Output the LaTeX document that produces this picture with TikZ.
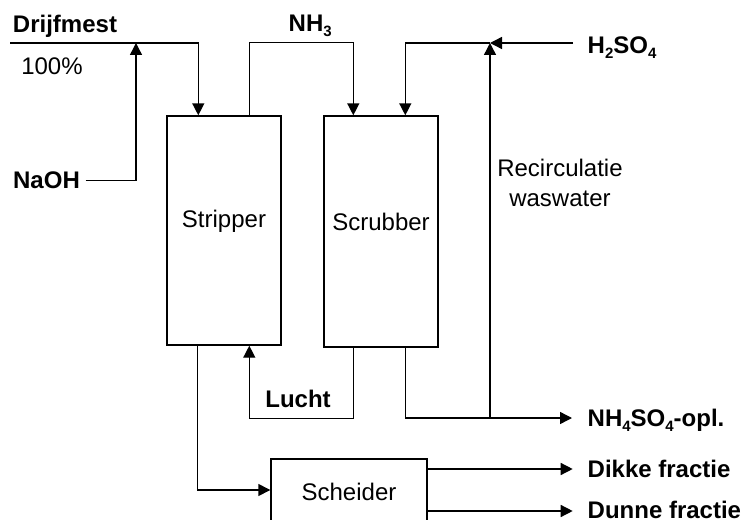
\documentclass[tikz,border=0pt]{standalone}
\usepackage{fontspec}
\setmainfont{Liberation Sans}
\usetikzlibrary{arrows.meta,calc}
\newcommand{\chsub}[1]{\raisebox{-5pt}{\fontsize{15}{15}\selectfont #1}}
\begin{document}
\begin{tikzpicture}[x=1pt,y=-1pt,
 line width=1.4pt,
 arr/.style={-{Triangle[length=12pt,width=12pt]}},
 unit/.style={draw, minimum width=114pt, inner sep=0pt},
 lbl/.style={inner sep=0pt, font=\fontsize{24}{28}\selectfont},
 blbl/.style={inner sep=0pt, font=\fontsize{24}{28}\selectfont\bfseries}]
\useasboundingbox (0,0) rectangle (741,519);

% units
\node[unit, minimum height=229pt, label={[lbl,yshift=9pt]center:Stripper}] (strip) at (224,230.5) {};
\node[unit, minimum height=231pt, label={[lbl,yshift=10pt]center:Scrubber}] (scrub) at (381,231.5) {};
\node[draw, minimum width=156pt, minimum height=62pt, inner sep=0pt, label={[lbl,yshift=-2pt]center:Scheider}] (sch) at (349,490) {};

% labels
\node[blbl, anchor=base] (drijf) at (65,33) {Drijfmest};
\node[lbl, anchor=base] (pct) at (52,74.5) {100\%};
\node[blbl, anchor=base] (naoh) at (46.5,188.5) {NaOH};
\node[blbl, anchor=base west] (nh3) at (288,31.5) {NH\chsub{3}};
\node[blbl, anchor=base west] (h2so4) at (587,53.5) {H\chsub{2}SO\chsub{4}};
\node[lbl, anchor=base] (rec1) at (560,176.5) {Recirculatie};
\node[lbl, anchor=base] (rec2) at (560,206.5) {waswater};
\node[blbl, anchor=base] (lucht) at (298,407.5) {Lucht};
\node[blbl, anchor=base west] (nh4) at (587,426.5) {NH\chsub{4}SO\chsub{4}-opl.};
\node[blbl, anchor=base west] (dikke) at (587,477.5) {Dikke fractie};
\node[blbl, anchor=base west] (dunne) at (587,518) {Dunne fractie};

% junction points
\coordinate (dstart) at (10,43);
\coordinate (mixA) at (136,43);
\coordinate (mixB) at (490,43);
\coordinate (jn) at (490,418);

% connectors
\draw[arr] (dstart) -| ([xshift=32pt]strip.north west);
\draw[arr] ([xshift=5pt]naoh.east) -| (mixA);
\draw[arr] ([xshift=83pt]strip.north west) -- ++(0,-73) -| ([xshift=30pt]scrub.north west);
\draw[arr] ($(h2so4.west |- mixB)+(-14,0)$) -- (mixB);
\draw[arr] (mixB) -| ([xshift=82pt]scrub.north west);
\draw[arr] (jn) -- (mixB);
\draw[arr] ([xshift=82pt]scrub.south west) |- ($(nh4.west |- jn)+(-15,0)$);
\draw[arr] ([xshift=30pt]scrub.south west) -- ++(0,71) -| ([xshift=83pt]strip.south west);
\draw[arr] ([xshift=31pt]strip.south west) |- (sch.west);
\draw[arr] ([yshift=21pt]sch.east) -- ++(145,0);
\draw[arr] ([yshift=-21pt]sch.east) -- ++(145,0);
\end{tikzpicture}
\end{document}
